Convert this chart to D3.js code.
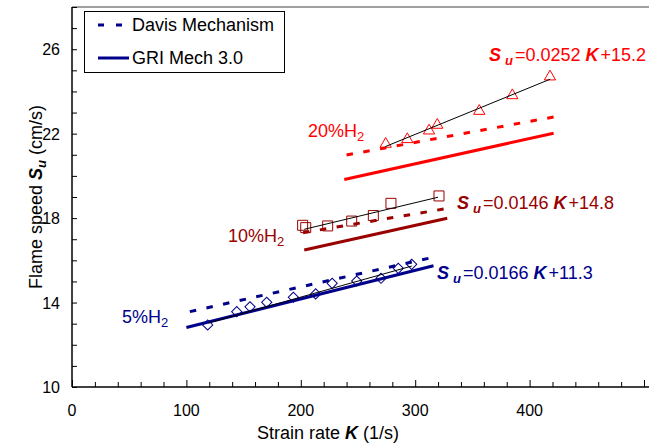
<!DOCTYPE html>
<html>
<head>
<meta charset="utf-8">
<script src="https://cdn.jsdelivr.net/npm/d3@7"></script>
<style>
  body { margin: 0; background: #fff; }
  text { font-family: Arial, "Liberation Sans", sans-serif; }
</style>
</head>
<body>
<div id="chart"></div>
<script>
const FRAME_WIDTH = 649;
const FRAME_HEIGHT = 445;
const MARGINS = {left: 72, top: 7, bottom: 58};

// axis ticks
const xTickLabels = [0, 100, 200, 300, 400];
const yTickLabels = [10, 14, 18, 22, 26];

// mixtures
const mixtures = ["5%H2", "10%H2", "20%H2"];
const mixColors = ["#00008b", "#990000", "#ff0000"];

// measured points (K in 1/s, Su in cm/s)
const k5 = [118.6, 144.0, 155.6, 170.2, 193.5, 213.0, 227.4, 248.9, 270.1, 285.2, 296.9];
const su5 = [12.94, 13.57, 13.80, 14.01, 14.25, 14.41, 14.91, 15.02, 15.15, 15.62, 15.81];
const k10 = [201.6, 204.3, 223.5, 244.5, 263.4, 278.8, 320.8];
const su10 = [17.66, 17.55, 17.63, 17.86, 18.12, 18.70, 19.05];
const k20 = [274.2, 293.1, 312.1, 319.3, 356.0, 384.9, 417.8];
const su20 = [21.51, 21.73, 22.14, 22.41, 23.07, 23.81, 24.70];

// model lines, end points
const davisK = [[103, 317], [202, 326], [240, 422]];
const davisSu = [[13.57, 16.16], [17.31, 18.44], [20.99, 22.80]];
const griK = [[100, 316], [203, 328], [238, 421]];
const griSu = [[12.82, 15.74], [16.49, 17.99], [19.83, 22.02]];
// linear fits of measured points
const fitK = [[119, 297], [203, 320], [274, 418]];
const fitSu = [[13.03, 15.73], [17.47, 18.99], [21.39, 24.58]];
const fitSlope = ["0.0166", "0.0146", "0.0252"];
const fitIntercept = ["11.3", "14.8", "15.2"];

const svg = d3.select("#chart")
  .append("svg")
    .attr("width", FRAME_WIDTH)
    .attr("height", FRAME_HEIGHT);

const xScale = d3.scaleLinear().domain([0, 500]).range([MARGINS.left, 644]);
const yScale = d3.scaleLinear().domain([10, 28]).range([FRAME_HEIGHT - MARGINS.bottom - 0, MARGINS.top]);
yScale.range([387, 7]);

// top frame line (gray) and axes
svg.append("line")
  .attr("x1", xScale(0)).attr("x2", FRAME_WIDTH)
  .attr("y1", yScale(28)).attr("y2", yScale(28))
  .attr("stroke", "#808080").attr("stroke-width", 1.5);

const xAxis = svg.append("g")
  .attr("transform", "translate(0," + yScale(10) + ")")
  .call(d3.axisBottom(xScale).tickValues(d3.range(0, 501, 20)).tickSize(-5).tickFormat(""));
xAxis.select(".domain").remove();
xAxis.selectAll(".tick line").attr("stroke", "#000")
  .attr("y2", d => d % 100 === 0 ? -7 : -5);
svg.append("line")
  .attr("x1", xScale(0)).attr("x2", FRAME_WIDTH)
  .attr("y1", yScale(10)).attr("y2", yScale(10))
  .attr("stroke", "#000").attr("stroke-width", 1.5);

const yAxis = svg.append("g")
  .attr("transform", "translate(" + xScale(0) + ",0)")
  .call(d3.axisLeft(yScale).tickValues(d3.range(10, 28.1, 1)).tickSize(-5).tickFormat(""));
yAxis.select(".domain").remove();
yAxis.selectAll(".tick line").attr("stroke", "#000");
svg.append("line")
  .attr("x1", xScale(0)).attr("x2", xScale(0))
  .attr("y1", yScale(28)).attr("y2", yScale(10))
  .attr("stroke", "#000").attr("stroke-width", 1.5);

// tick labels
svg.selectAll(".xlab")
  .data(xTickLabels)
  .enter().append("text")
    .attr("x", d => xScale(d))
    .attr("y", 416)
    .attr("text-anchor", "middle")
    .attr("font-size", 16)
    .text(d => d);

svg.selectAll(".ylab")
  .data(yTickLabels)
  .enter().append("text")
    .attr("x", 60)
    .attr("y", d => yScale(d) + 6)
    .attr("text-anchor", "end")
    .attr("font-size", 16)
    .text(d => d);

// axis titles
const xTitle = svg.append("text")
  .attr("x", 328).attr("y", 439)
  .attr("text-anchor", "middle")
  .attr("font-size", 18);
xTitle.append("tspan").text("Strain rate ");
xTitle.append("tspan").attr("font-weight", "bold").attr("font-style", "italic").text("K");
xTitle.append("tspan").text("  (1/s)");

const yTitle = svg.append("text")
  .attr("transform", "translate(42,197) rotate(-90)")
  .attr("text-anchor", "middle")
  .attr("font-size", 18);
yTitle.append("tspan").text("Flame speed ");
yTitle.append("tspan").attr("font-weight", "bold").attr("font-style", "italic").text("S");
yTitle.append("tspan").attr("font-weight", "bold").attr("font-style", "italic")
  .attr("font-size", 13).attr("dy", 4).text("u");
yTitle.append("tspan").attr("dy", -4).text("  (cm/s)");

const DASH = "6.5,10.5";

// model lines
mixtures.forEach((m, i) => {
  svg.append("line")
    .attr("x1", xScale(griK[i][0])).attr("y1", yScale(griSu[i][0]))
    .attr("x2", xScale(griK[i][1])).attr("y2", yScale(griSu[i][1]))
    .attr("stroke", mixColors[i]).attr("stroke-width", 3);
  svg.append("line")
    .attr("x1", xScale(davisK[i][0])).attr("y1", yScale(davisSu[i][0]))
    .attr("x2", xScale(davisK[i][1])).attr("y2", yScale(davisSu[i][1]))
    .attr("stroke", mixColors[i]).attr("stroke-width", 3)
    .attr("stroke-dasharray", DASH);
});

// measured markers
const points = [
  {k: k5, su: su5, sym: d3.symbolSquare, size: 52, rot: 45},
  {k: k10, su: su10, sym: d3.symbolSquare, size: 100, rot: 0},
  {k: k20, su: su20, sym: d3.symbolTriangle, size: 55, rot: 0}
];
points.forEach((p, i) => {
  svg.selectAll(".pt" + i)
    .data(p.k.map((k, j) => ({k: k, su: p.su[j]})))
    .enter().append("path")
      .attr("d", d3.symbol().type(p.sym).size(p.size))
      .attr("transform", d => "translate(" + xScale(d.k) + "," + yScale(d.su) + ") rotate(" + p.rot + ")")
      .attr("fill", "none")
      .attr("stroke", mixColors[i])
      .attr("stroke-width", 1);
});

// fit lines
mixtures.forEach((m, i) => {
  svg.append("line")
    .attr("x1", xScale(fitK[i][0])).attr("y1", yScale(fitSu[i][0]))
    .attr("x2", xScale(fitK[i][1])).attr("y2", yScale(fitSu[i][1]))
    .attr("stroke", "#000").attr("stroke-width", 1);
});

// mixture labels
const mixPos = [[122, 323], [228, 242], [308, 137]];
mixtures.forEach((m, i) => {
  const t = svg.append("text")
    .attr("x", mixPos[i][0]).attr("y", mixPos[i][1])
    .attr("font-size", 18)
    .attr("fill", mixColors[i]);
  t.append("tspan").text(m.replace("H2", "H"));
  t.append("tspan").attr("font-size", 13).attr("dy", 4).text("2");
});

// fit equations
const eqPos = [[437, 279], [457, 209], [489, 61]];
mixtures.forEach((m, i) => {
  const t = svg.append("text")
    .attr("x", eqPos[i][0]).attr("y", eqPos[i][1])
    .attr("font-size", 18)
    .attr("fill", mixColors[i]);
  t.append("tspan").attr("font-weight", "bold").attr("font-style", "italic").text("S");
  t.append("tspan").attr("font-weight", "bold").attr("font-style", "italic")
    .attr("font-size", 13).attr("dx", 4).attr("dy", 4).text("u");
  t.append("tspan").attr("dy", -4).attr("dx", 2).text("=" + fitSlope[i] + " ");
  t.append("tspan").attr("font-weight", "bold").attr("font-style", "italic").text("K");
  t.append("tspan").attr("dx", 2).text("+" + fitIntercept[i]);
});

// legend
const legend = svg.append("g");
legend.append("rect")
  .attr("x", 84.5).attr("y", 11.5)
  .attr("width", 200).attr("height", 61)
  .attr("fill", "#fff").attr("stroke", "#000").attr("stroke-width", 1);
legend.append("line")
  .attr("x1", 98).attr("x2", 126).attr("y1", 25).attr("y2", 25)
  .attr("stroke", mixColors[0]).attr("stroke-width", 3)
  .attr("stroke-dasharray", "6,12");
legend.append("line")
  .attr("x1", 98).attr("x2", 129).attr("y1", 58).attr("y2", 58)
  .attr("stroke", mixColors[0]).attr("stroke-width", 3);
legend.append("text").attr("x", 132).attr("y", 31).attr("font-size", 18).text("Davis Mechanism");
legend.append("text").attr("x", 132).attr("y", 64).attr("font-size", 18).text("GRI Mech 3.0");
</script>
</body>
</html>
